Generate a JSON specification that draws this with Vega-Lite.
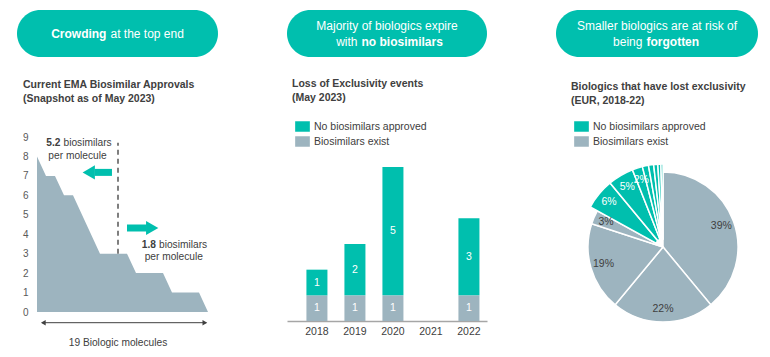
{
  "$schema": "https://vega.github.io/schema/vega-lite/v6.json",
  "padding": {"left": 17, "top": 10, "right": 0, "bottom": 0},
  "background": "white",
  "config": {
    "font": "Liberation Sans",
    "view": {"stroke": null},
    "title": {"anchor": "start", "fontSize": 10.5, "fontWeight": "bold", "color": "#404040", "lineHeight": 14},
    "axisY": {"labelOverlap": false},
    "legend": {"title": null, "orient": "none", "symbolType": "M-1.4,-1H1.4V1H-1.4Z", "symbolSize": 110, "symbolStrokeWidth": 0, "labelFontSize": 10.5, "labelColor": "#404040", "rowPadding": 4, "labelOffset": 6, "padding": 0}
  },
  "datasets": {
    "pill1": [
      {"line": 1, "kind": "boldLeft", "text": "Crowding"},
      {"line": 1, "kind": "regRight", "text": "at the top end"}
    ],
    "pill2": [
      {"line": 1, "kind": "center", "text": "Majority of biologics expire"},
      {"line": 2, "kind": "regLeft", "text": "with"},
      {"line": 2, "kind": "boldRight", "text": "no biosimilars"}
    ],
    "pill3": [
      {"line": 1, "kind": "center", "text": "Smaller biologics are at risk of"},
      {"line": 2, "kind": "regLeft", "text": "being"},
      {"line": 2, "kind": "boldRight", "text": "forgotten"}
    ],
    "curve": [
      {"m": 0, "v": 8}, {"m": 1, "v": 7}, {"m": 2, "v": 7}, {"m": 3, "v": 6},
      {"m": 4, "v": 6}, {"m": 7, "v": 3}, {"m": 10, "v": 3}, {"m": 11, "v": 2},
      {"m": 14, "v": 2}, {"m": 15, "v": 1}, {"m": 18, "v": 1}, {"m": 19, "v": 0}
    ],
    "notes": [
      {"kind": "num", "t": "5.2", "m": 2.78, "v": 8.69},
      {"kind": "word", "t": "biosimilars", "m": 2.78, "v": 8.69},
      {"kind": "line", "t": "per molecule", "m": 4.5, "v": 8.02},
      {"kind": "num", "t": "1.8", "m": 13.39, "v": 3.45},
      {"kind": "word", "t": "biosimilars", "m": 13.39, "v": 3.45},
      {"kind": "line", "t": "per molecule", "m": 15.2, "v": 2.83},
      {"kind": "line", "t": "19 Biologic molecules", "m": 9.0, "v": -1.58}
    ],
    "loe": [
      {"year": "2018", "status": "Biosimilars exist", "n": 1},
      {"year": "2018", "status": "No biosimilars approved", "n": 1},
      {"year": "2019", "status": "Biosimilars exist", "n": 1},
      {"year": "2019", "status": "No biosimilars approved", "n": 2},
      {"year": "2020", "status": "Biosimilars exist", "n": 1},
      {"year": "2020", "status": "No biosimilars approved", "n": 5},
      {"year": "2022", "status": "Biosimilars exist", "n": 1},
      {"year": "2022", "status": "No biosimilars approved", "n": 3}
    ],
    "pie": [
      {"slice": 1, "status": "Biosimilars exist", "pct": 39, "label": "39%"},
      {"slice": 2, "status": "Biosimilars exist", "pct": 22, "label": "22%"},
      {"slice": 3, "status": "Biosimilars exist", "pct": 19, "label": "19%"},
      {"slice": 4, "status": "Biosimilars exist", "pct": 3, "label": "3%"},
      {"slice": 5, "status": "No biosimilars approved", "pct": 6, "label": "6%"},
      {"slice": 6, "status": "No biosimilars approved", "pct": 5, "label": "5%"},
      {"slice": 7, "status": "No biosimilars approved", "pct": 2, "label": "2%"},
      {"slice": 8, "status": "No biosimilars approved", "pct": 1.2, "label": ""},
      {"slice": 9, "status": "No biosimilars approved", "pct": 1.0, "label": ""},
      {"slice": 10, "status": "No biosimilars approved", "pct": 0.8, "label": ""},
      {"slice": 11, "status": "No biosimilars approved", "pct": 0.6, "label": ""},
      {"slice": 12, "status": "No biosimilars approved", "pct": 0.4, "label": ""}
    ]
  },
  "resolve": {"scale": {"color": "independent"}},
  "spacing": 69,
  "hconcat": [
    {
      "bounds": "flush",
      "spacing": 80,
      "vconcat": [
        {
          "width": 201, "height": 47,
          "view": {"fill": "#00BFAE", "cornerRadius": 23.5, "stroke": null},
          "data": {"name": "pill1"},
          "encoding": {
            "y": {"field": "line", "type": "quantitative", "scale": {"domain": [0, 2], "reverse": true}, "axis": null}
          },
          "layer": [
            {"transform": [{"filter": "datum.kind == 'boldLeft'"}],
             "mark": {"type": "text", "align": "right", "baseline": "middle", "dx": -2, "fontSize": 12, "fontWeight": "bold", "color": "white"},
             "encoding": {"x": {"datum": 0.455, "type": "quantitative", "scale": {"domain": [0, 1]}, "axis": null}, "text": {"field": "text"}}},
            {"transform": [{"filter": "datum.kind == 'regRight'"}],
             "mark": {"type": "text", "align": "left", "baseline": "middle", "dx": 2, "fontSize": 12, "color": "white"},
             "encoding": {"x": {"datum": 0.455, "type": "quantitative", "axis": null}, "text": {"field": "text"}}}
          ]
        },
        {
          "width": 201, "height": 175,
          "title": {"text": ["Current EMA Biosimilar Approvals", "(Snapshot as of May 2023)"], "offset": 28, "dx": 6},
          "layer": [
            {"data": {"name": "curve"},
             "mark": {"type": "area", "color": "#9DB4BF", "interpolate": "linear"},
             "encoding": {
               "x": {"field": "m", "type": "quantitative", "scale": {"domain": [-2.222, 20.111], "nice": false, "zero": false}, "axis": null},
               "y": {"field": "v", "type": "quantitative", "scale": {"domain": [0, 9], "nice": false},
                     "axis": {"values": [0,1,2,3,4,5,6,7,8,9], "labelOverlap": false, "grid": false, "domain": false, "ticks": false, "offset": -13, "labelPadding": 2, "labelFontSize": 10, "labelColor": "#595959", "title": null}}
             }},
            {"data": {"values": [{"m": 9, "v0": 3, "v1": 8.7}]},
             "mark": {"type": "rule", "color": "#7F7F7F", "strokeWidth": 2, "strokeDash": [5, 4]},
             "encoding": {"x": {"field": "m", "type": "quantitative", "axis": null},
               "y": {"field": "v0", "type": "quantitative", "axis": {"values": [0,1,2,3,4,5,6,7,8,9], "labelOverlap": false, "grid": false, "domain": false, "ticks": false, "offset": -13, "labelPadding": 2, "labelFontSize": 10, "labelColor": "#595959", "title": null}},
               "y2": {"field": "v1"}}},
            {"data": {"values": [{"from": 6.4, "to": 8.33, "v": 7.18}, {"from": 10, "to": 12.2, "v": 4.32}]},
             "mark": {"type": "rule", "color": "#00BFAE", "strokeWidth": 7},
             "encoding": {"x": {"field": "from", "type": "quantitative", "axis": null}, "x2": {"field": "to"},
               "y": {"field": "v", "type": "quantitative", "axis": {"values": [0,1,2,3,4,5,6,7,8,9], "labelOverlap": false, "grid": false, "domain": false, "ticks": false, "offset": -13, "labelPadding": 2, "labelFontSize": 10, "labelColor": "#595959", "title": null}}}},
            {"data": {"values": [{"m": 5.75, "v": 7.18, "dir": "left"}, {"m": 12.8, "v": 4.32, "dir": "right"}]},
             "mark": {"type": "point", "filled": true, "opacity": 1, "color": "#00BFAE", "size": 200},
             "encoding": {"x": {"field": "m", "type": "quantitative", "axis": null},
               "y": {"field": "v", "type": "quantitative", "axis": {"values": [0,1,2,3,4,5,6,7,8,9], "labelOverlap": false, "grid": false, "domain": false, "ticks": false, "offset": -13, "labelPadding": 2, "labelFontSize": 10, "labelColor": "#595959", "title": null}},
               "shape": {"field": "dir", "type": "nominal", "scale": {"domain": ["left", "right"], "range": ["triangle-left", "triangle-right"]}, "legend": null}}},
            {"data": {"values": [{"from": 0.56, "to": 18.8, "v": -0.55}]},
             "mark": {"type": "rule", "color": "#404040", "strokeWidth": 1},
             "encoding": {"x": {"field": "from", "type": "quantitative", "axis": null}, "x2": {"field": "to"},
               "y": {"field": "v", "type": "quantitative", "axis": {"values": [0,1,2,3,4,5,6,7,8,9], "labelOverlap": false, "grid": false, "domain": false, "ticks": false, "offset": -13, "labelPadding": 2, "labelFontSize": 10, "labelColor": "#595959", "title": null}}}},
            {"data": {"values": [{"m": 0.7, "v": -0.55, "dir": "left"}, {"m": 18.65, "v": -0.55, "dir": "right"}]},
             "mark": {"type": "point", "filled": true, "opacity": 1, "color": "#404040", "size": 30},
             "encoding": {"x": {"field": "m", "type": "quantitative", "axis": null},
               "y": {"field": "v", "type": "quantitative", "axis": {"values": [0,1,2,3,4,5,6,7,8,9], "labelOverlap": false, "grid": false, "domain": false, "ticks": false, "offset": -13, "labelPadding": 2, "labelFontSize": 10, "labelColor": "#595959", "title": null}},
               "shape": {"field": "dir", "type": "nominal", "legend": null}}},
            {"data": {"name": "notes"},
             "transform": [{"filter": "datum.kind == 'num'"}],
             "mark": {"type": "text", "align": "right", "baseline": "middle", "dx": -1.5, "fontSize": 10.2, "fontWeight": "bold", "color": "#404040"},
             "encoding": {"x": {"field": "m", "type": "quantitative", "axis": null},
               "y": {"field": "v", "type": "quantitative", "axis": {"values": [0,1,2,3,4,5,6,7,8,9], "labelOverlap": false, "grid": false, "domain": false, "ticks": false, "offset": -13, "labelPadding": 2, "labelFontSize": 10, "labelColor": "#595959", "title": null}},
               "text": {"field": "t"}}},
            {"data": {"name": "notes"},
             "transform": [{"filter": "datum.kind == 'word'"}],
             "mark": {"type": "text", "align": "left", "baseline": "middle", "dx": 1.5, "fontSize": 10.2, "color": "#404040"},
             "encoding": {"x": {"field": "m", "type": "quantitative", "axis": null},
               "y": {"field": "v", "type": "quantitative", "axis": {"values": [0,1,2,3,4,5,6,7,8,9], "labelOverlap": false, "grid": false, "domain": false, "ticks": false, "offset": -13, "labelPadding": 2, "labelFontSize": 10, "labelColor": "#595959", "title": null}},
               "text": {"field": "t"}}},
            {"data": {"name": "notes"},
             "transform": [{"filter": "datum.kind == 'line'"}],
             "mark": {"type": "text", "align": "center", "baseline": "middle", "fontSize": 10.2, "color": "#404040"},
             "encoding": {"x": {"field": "m", "type": "quantitative", "axis": null},
               "y": {"field": "v", "type": "quantitative", "axis": {"values": [0,1,2,3,4,5,6,7,8,9], "labelOverlap": false, "grid": false, "domain": false, "ticks": false, "offset": -13, "labelPadding": 2, "labelFontSize": 10, "labelColor": "#595959", "title": null}},
               "text": {"field": "t"}}}
          ]
        }
      ]
    },
    {
      "bounds": "flush",
      "spacing": 110,
      "resolve": {"scale": {"color": "independent"}},
      "vconcat": [
        {
          "width": 200, "height": 47,
          "view": {"fill": "#00BFAE", "cornerRadius": 23.5, "stroke": null},
          "data": {"name": "pill2"},
          "encoding": {
            "y": {"field": "line", "type": "quantitative", "scale": {"domain": [0, 2.94], "reverse": true}, "axis": null}
          },
          "layer": [
            {"transform": [{"filter": "datum.kind == 'center'"}],
             "mark": {"type": "text", "align": "center", "baseline": "middle", "fontSize": 12, "color": "white"},
             "encoding": {"x": {"datum": 0.5, "type": "quantitative", "scale": {"domain": [0, 1]}, "axis": null}, "text": {"field": "text"}}},
            {"transform": [{"filter": "datum.kind == 'regLeft'"}],
             "mark": {"type": "text", "align": "right", "baseline": "middle", "dx": -2, "fontSize": 12, "color": "white"},
             "encoding": {"x": {"datum": 0.3625, "type": "quantitative", "axis": null}, "text": {"field": "text"}}},
            {"transform": [{"filter": "datum.kind == 'boldRight'"}],
             "mark": {"type": "text", "align": "left", "baseline": "middle", "dx": 2, "fontSize": 12, "fontWeight": "bold", "color": "white"},
             "encoding": {"x": {"datum": 0.3625, "type": "quantitative", "axis": null}, "text": {"field": "text"}}}
          ]
        },
        {
          "width": 200, "height": 154,
          "title": {"text": ["Loss of Exclusivity events", "(May 2023)"], "offset": 18, "dx": 5},
          "data": {"name": "loe"},
          "encoding": {
            "x": {"field": "year", "type": "nominal",
                  "scale": {"domain": ["2018", "2019", "2020", "2021", "2022"], "paddingInner": 0.447, "paddingOuter": 0.355, "align": 0.72},
                  "axis": {"title": null, "labelAngle": 0, "ticks": false, "labelPadding": 5, "labelFontSize": 10.5, "labelColor": "#404040", "domainColor": "#A6A6A6", "domainWidth": 1.5}}
          },
          "layer": [
            {"mark": {"type": "bar"},
             "encoding": {
               "y": {"field": "n", "type": "quantitative", "stack": "zero", "scale": {"domain": [0, 6], "nice": false}, "axis": null},
               "order": {"field": "status", "sort": "ascending"},
               "color": {"field": "status", "type": "nominal",
               "scale": {"domain": ["No biosimilars approved", "Biosimilars exist"], "range": ["#00BFAE", "#9DB4BF"]},
               "legend": {"legendX": 10, "legendY": -46}}}},
            {"transform": [
               {"stack": "n", "groupby": ["year"], "sort": [{"field": "status", "order": "ascending"}], "as": ["s0", "s1"]},
               {"fold": ["s0", "s1"], "as": ["edge", "pos"]}],
             "mark": {"type": "text", "color": "white", "fontSize": 10.5, "baseline": "middle"},
             "encoding": {
               "y": {"field": "pos", "aggregate": "mean", "type": "quantitative"},
               "detail": {"field": "status", "type": "nominal"},
               "text": {"field": "n", "aggregate": "max", "type": "quantitative"}}}
          ]
        }
      ]
    },
    {
      "bounds": "flush",
      "spacing": 115,
      "resolve": {"scale": {"color": "independent"}},
      "vconcat": [
        {
          "width": 202, "height": 47,
          "view": {"fill": "#00BFAE", "cornerRadius": 23.5, "stroke": null},
          "data": {"name": "pill3"},
          "encoding": {
            "y": {"field": "line", "type": "quantitative", "scale": {"domain": [0, 2.94], "reverse": true}, "axis": null}
          },
          "layer": [
            {"transform": [{"filter": "datum.kind == 'center'"}],
             "mark": {"type": "text", "align": "center", "baseline": "middle", "fontSize": 12, "color": "white"},
             "encoding": {"x": {"datum": 0.5, "type": "quantitative", "scale": {"domain": [0, 1]}, "axis": null}, "text": {"field": "text"}}},
            {"transform": [{"filter": "datum.kind == 'regLeft'"}],
             "mark": {"type": "text", "align": "right", "baseline": "middle", "dx": -2, "fontSize": 12, "color": "white"},
             "encoding": {"x": {"datum": 0.438, "type": "quantitative", "axis": null}, "text": {"field": "text"}}},
            {"transform": [{"filter": "datum.kind == 'boldRight'"}],
             "mark": {"type": "text", "align": "left", "baseline": "middle", "dx": 2, "fontSize": 12, "fontWeight": "bold", "color": "white"},
             "encoding": {"x": {"datum": 0.438, "type": "quantitative", "axis": null}, "text": {"field": "text"}}}
          ]
        },
        {
          "width": 214, "height": 150,
          "title": {"text": ["Biologics that have lost exclusivity", "(EUR, 2018-22)"], "offset": 15, "dx": 15},
          "data": {"name": "pie"},
          "layer": [
            {"transform": [
               {"stack": "pct", "groupby": [], "sort": [{"field": "slice", "order": "ascending"}], "as": ["a0", "a1"]},
               {"filter": "datum.status == 'Biosimilars exist'"}],
             "mark": {"type": "arc", "radius": 75, "stroke": "white", "strokeWidth": 1.5},
             "encoding": {
               "theta": {"field": "a0", "type": "quantitative", "scale": {"domain": [0, 100]}},
               "theta2": {"field": "a1"},
               "color": {"field": "status", "type": "nominal",
                 "scale": {"domain": ["No biosimilars approved", "Biosimilars exist"], "range": ["#00BFAE", "#9DB4BF"]},
                 "legend": {"legendX": 20, "legendY": -51}}
             }},
            {"transform": [
               {"stack": "pct", "groupby": [], "sort": [{"field": "slice", "order": "ascending"}], "as": ["a0", "a1"]},
               {"filter": "datum.status == 'No biosimilars approved'"}],
             "mark": {"type": "arc", "radius": 83, "radius2": 8, "stroke": "white", "strokeWidth": 1.5},
             "encoding": {
               "theta": {"field": "a0", "type": "quantitative"},
               "theta2": {"field": "a1"},
               "color": {"field": "status", "type": "nominal"}
             }},
            {"mark": {"type": "text", "radius": 62, "fontSize": 10.5, "color": "#404040"},
             "encoding": {
               "theta": {"field": "pct", "type": "quantitative", "stack": true},
               "order": {"field": "slice", "type": "quantitative"},
               "text": {"condition": {"test": "datum.status == 'Biosimilars exist'", "field": "label"}, "value": ""}
             }},
            {"mark": {"type": "text", "radius": 70, "fontSize": 10.5, "color": "white"},
             "encoding": {
               "theta": {"field": "pct", "type": "quantitative", "stack": true},
               "order": {"field": "slice", "type": "quantitative"},
               "text": {"condition": {"test": "datum.status == 'No biosimilars approved'", "field": "label"}, "value": ""}
             }}
          ]
        }
      ]
    }
  ]
}
